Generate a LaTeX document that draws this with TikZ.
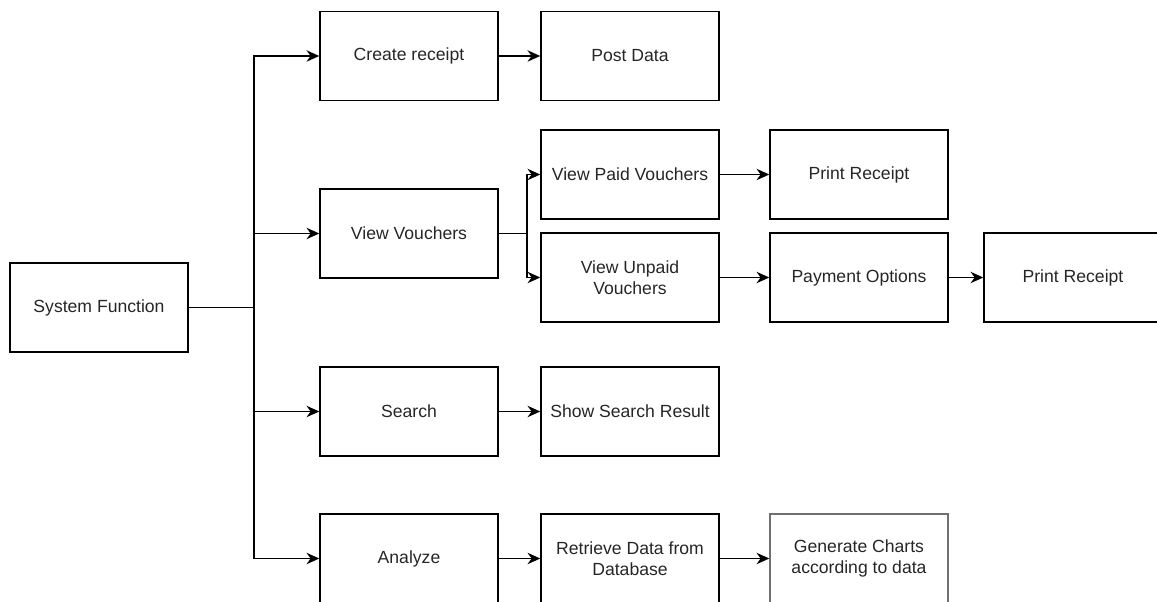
\documentclass[tikz,border=0pt]{standalone}
\usepackage{fontspec}
\setmainfont{Liberation Sans}
\usetikzlibrary{arrows.meta}
\definecolor{txt}{HTML}{262626}
\definecolor{greyline}{HTML}{707070}
\begin{document}
\begin{tikzpicture}[x=0.75pt,y=-0.75pt,line width=1.1pt,
  box/.style={draw,minimum width=133.5pt,minimum height=66.75pt,inner sep=0pt,align=center,
    text=txt,font=\fontsize{13.2}{15.8}\selectfont},
  >={Stealth[length=9.5pt,width=8.5pt,inset=3pt]}]
\clip(0,0)rectangle(1157,602);
\node[box](sys)at(99,307.5){System Function};
\node[box](create)at(409,56){Create receipt};
\node[box](post)at(630,56){Post Data};
\node[box](vv)at(409,233.5){View Vouchers};
\node[box](paid)at(630,174.5){View Paid Vouchers};
\node[box](printa)at(859,174.5){Print Receipt};
\node[box](unpaid)at(630,277.5){View Unpaid\\Vouchers};
\node[box](payopt)at(859,277.5){Payment Options};
\node[box](printb)at(1073,277.5){Print Receipt};
\node[box](search)at(409,411.5){Search};
\node[box](show)at(630,411.5){Show Search Result};
\node[box](analyze)at(409,558.5){Analyze};
\node[box](retrieve)at(630,558.5){Retrieve Data from\\Database};
\node[box,draw=greyline](charts)at(859,558.5){Generate Charts\\according to data};
\coordinate(trunk)at(254,307.5);
\coordinate(split)at(527,233.5);
\draw(sys)--(trunk);
\foreach \n in {create,vv,search,analyze}\draw[->](trunk)|-(\n.west);
\draw(vv)--(split);
\foreach \n in {paid,unpaid}\draw[->](split)|-(\n.west);
\draw[->](create)--(post);
\draw[->](paid)--(printa);
\draw[->](unpaid)--(payopt);
\draw[->](payopt)--(printb);
\draw[->](search)--(show);
\draw[->](analyze)--(retrieve);
\draw[->](retrieve)--(charts);
\end{tikzpicture}
\end{document}
